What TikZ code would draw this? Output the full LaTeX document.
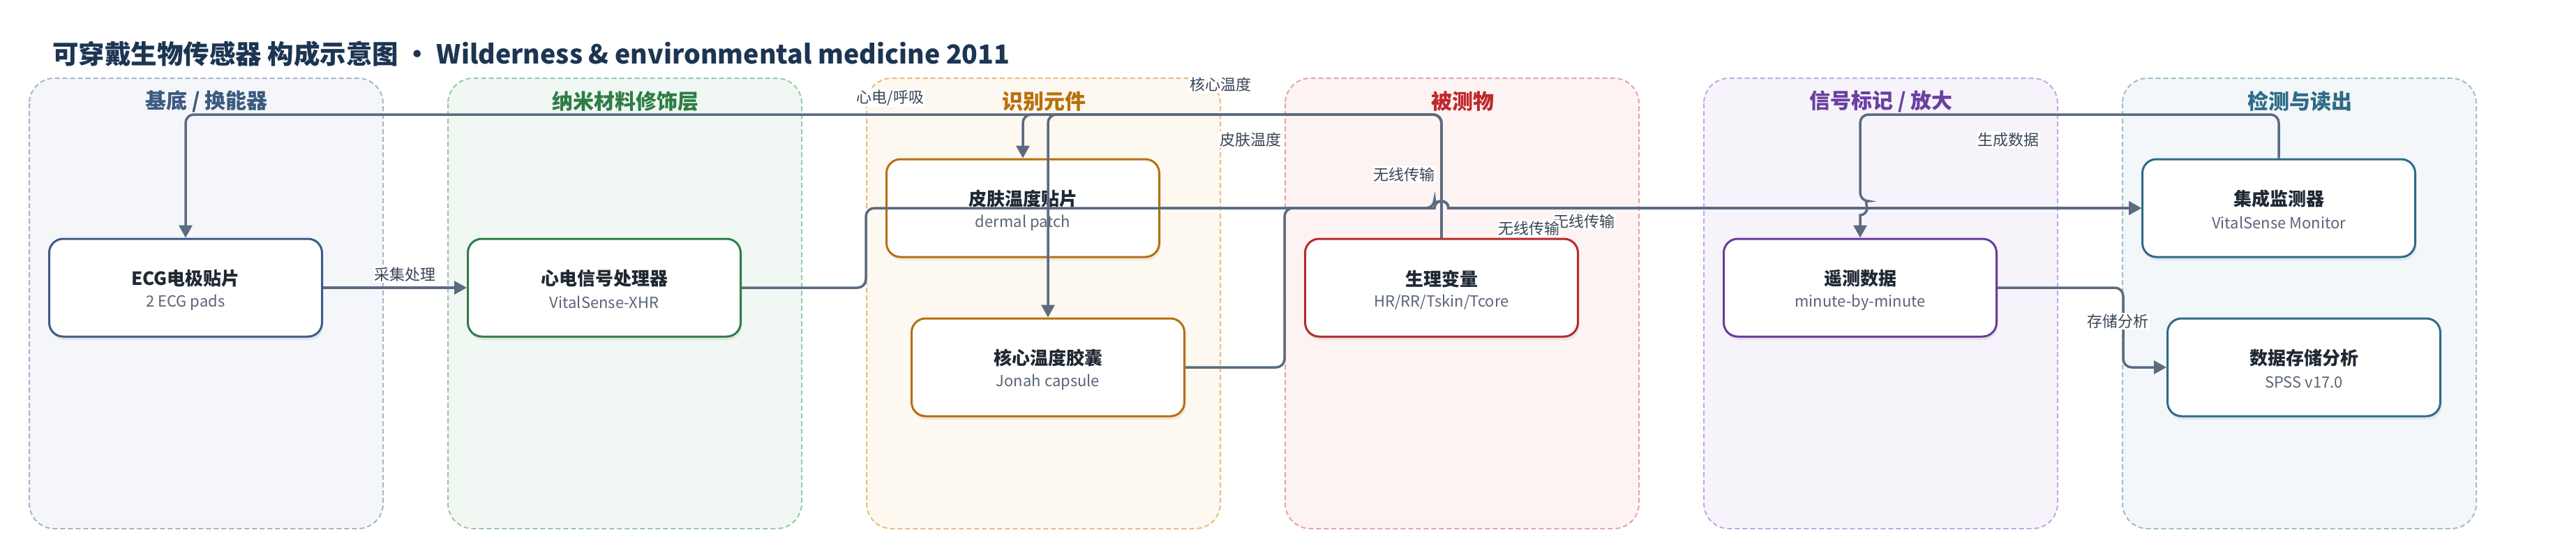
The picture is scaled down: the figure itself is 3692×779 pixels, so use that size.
\documentclass[tikz,border=0pt]{standalone}
\usepackage{fontspec}
\setmainfont{Noto Sans CJK SC}
\usetikzlibrary{arrows.meta,shadows}

\definecolor{edgec}{HTML}{5B6B80}
\definecolor{labc}{HTML}{3A4556}
\definecolor{titc}{HTML}{1C3552}
\definecolor{ntitc}{HTML}{1F2933}
\definecolor{nsubc}{HTML}{5A6577}
% lane colours
\definecolor{fA}{HTML}{F4F6FA}\definecolor{bA}{HTML}{A9B6CA}\definecolor{tA}{HTML}{3D5A80}\definecolor{nA}{HTML}{3E5C85}
\definecolor{fB}{HTML}{F1F8F3}\definecolor{bB}{HTML}{9CC8A8}\definecolor{tB}{HTML}{2E7D46}\definecolor{nB}{HTML}{2E7D4A}
\definecolor{fC}{HTML}{FDF8F0}\definecolor{bC}{HTML}{E5BE80}\definecolor{tC}{HTML}{B8700A}\definecolor{nC}{HTML}{B5700F}
\definecolor{fD}{HTML}{FDF3F3}\definecolor{bD}{HTML}{E8A5A5}\definecolor{tD}{HTML}{C0282A}\definecolor{nD}{HTML}{B82A2A}
\definecolor{fE}{HTML}{F7F3FB}\definecolor{bE}{HTML}{C5A8E0}\definecolor{tE}{HTML}{6B3FA0}\definecolor{nE}{HTML}{6B3A9B}
\definecolor{fF}{HTML}{F3F7F9}\definecolor{bF}{HTML}{9FBFCC}\definecolor{tF}{HTML}{2E6B88}\definecolor{nF}{HTML}{2F6A8A}

\begin{document}
\begin{tikzpicture}[x=1pt,y=-1pt,
  lanebox/.style 2 args={draw=#1, fill=#2, dash pattern=on 7pt off 4pt, line width=2pt, rounded corners=36pt},
  lanetitle/.style={text=#1, font=\fontsize{30}{34}\selectfont\bfseries, inner sep=0pt},
  box/.style={draw=#1, fill=white, line width=3pt, rounded corners=20pt,
    minimum width=391pt, minimum height=140pt, inner sep=0pt,
    drop shadow={opacity=0.13, shadow xshift=2pt, shadow yshift=-5pt}},
  ntitle/.style={text=ntitc, font=\fontsize{26}{30}\selectfont\bfseries, inner sep=0pt},
  nsub/.style={text=nsubc, font=\fontsize{22}{26}\selectfont, inner sep=0pt},
  conn/.style={draw=edgec, line width=3.5pt, -{Triangle[length=18pt,width=19pt]}},
  elab/.style={fill=white, text=labc, font=\fontsize{22}{26}\selectfont, inner sep=1.5pt}
]
\useasboundingbox (0,0) rectangle (3692,779);

% title
\node[anchor=west, text=titc, font=\fontsize{37.5}{43}\selectfont\bfseries, inner sep=0pt] (title) at (75,77)
  {可穿戴生物传感器 构成示意图 · Wilderness \& environmental medicine 2011};

% lanes
\path[lanebox={bA}{fA}] (42,112) rectangle (549,757);
\path[lanebox={bB}{fB}] (642,112) rectangle (1149,757);
\path[lanebox={bC}{fC}] (1242,112) rectangle (1749,757);
\path[lanebox={bD}{fD}] (1842,112) rectangle (2349,757);
\path[lanebox={bE}{fE}] (2442,112) rectangle (2949,757);
\path[lanebox={bF}{fF}] (3042,112) rectangle (3549,757);

\node[lanetitle=tA] (lt1) at (296,145) {基底 / 换能器};
\node[lanetitle=tB] (lt2) at (896,145) {纳米材料修饰层};
\node[lanetitle=tC] (lt3) at (1496,145) {识别元件};
\node[lanetitle=tD] (lt4) at (2096,145) {被测物};
\node[lanetitle=tE] (lt5) at (2696,145) {信号标记 / 放大};
\node[lanetitle=tF] (lt6) at (3296,145) {检测与读出};

% nodes
\node[box=nA] (ecg) at (266,412) {};
\node[ntitle] (ecg-t) at ([yshift=13pt]ecg.center) {ECG电极贴片};
\node[nsub] (ecg-s) at ([yshift=-21pt]ecg.center) {2 ECG pads};

\node[box=nB] (proc) at (866,412) {};
\node[ntitle] (proc-t) at ([yshift=13pt]proc.center) {心电信号处理器};
\node[nsub] (proc-s) at ([yshift=-21pt]proc.center) {VitalSense-XHR};

\node[box=nC] (derm) at (1466,298) {};
\node[ntitle] (derm-t) at ([yshift=13pt]derm.center) {皮肤温度贴片};
\node[nsub] (derm-s) at ([yshift=-21pt]derm.center) {dermal patch};

\node[box=nC] (cap) at (1502,526) {};
\node[ntitle] (cap-t) at ([yshift=13pt]cap.center) {核心温度胶囊};
\node[nsub] (cap-s) at ([yshift=-21pt]cap.center) {Jonah capsule};

\node[box=nD] (phys) at (2066,412) {};
\node[ntitle] (phys-t) at ([yshift=13pt]phys.center) {生理变量};
\node[nsub] (phys-s) at ([yshift=-21pt]phys.center) {HR/RR/Tskin/Tcore};

\node[box=nE] (tel) at (2666,412) {};
\node[ntitle] (tel-t) at ([yshift=13pt]tel.center) {遥测数据};
\node[nsub] (tel-s) at ([yshift=-21pt]tel.center) {minute-by-minute};

\node[box=nF] (mon) at (3266,298) {};
\node[ntitle] (mon-t) at ([yshift=13pt]mon.center) {集成监测器};
\node[nsub] (mon-s) at ([yshift=-21pt]mon.center) {VitalSense Monitor};

\node[box=nF] (stor) at (3302,526) {};
\node[ntitle] (stor-t) at ([yshift=13pt]stor.center) {数据存储分析};
\node[nsub] (stor-s) at ([yshift=-21pt]stor.center) {SPSS v17.0};

% connectors
\draw[conn] (ecg.east) -- (proc.west);

\draw[conn, rounded corners=12pt] (phys.north) -- (2066,164) -- (266,164) -- (ecg.north);
\draw[conn, rounded corners=12pt] (phys.north) -- (2066,164) -- (1466,164) -- (derm.north);
\draw[conn, rounded corners=12pt] (phys.north) -- (2066,164) -- (1502,164) -- (cap.north);

\draw[conn, rounded corners=12pt] (proc.east) -- (1241,412) -- (1241,298) -- (2056,298)
  [sharp corners] arc[start angle=180, end angle=0, radius=10pt] -- (mon.west);
\draw[conn] (derm.east) -- (2056,298) arc[start angle=180, end angle=0, radius=10pt] -- (mon.west);
\draw[conn, rounded corners=12pt] (cap.east) -- (1841,526) -- (1841,298) -- (2056,298)
  [sharp corners] arc[start angle=180, end angle=0, radius=10pt] -- (mon.west);

\draw[conn, rounded corners=12pt] (mon.north) -- (3266,164) -- (2666,164) -- (2666,288)
  [sharp corners] arc[start angle=90, end angle=-90, radius=10pt] -- (tel.north);

\draw[conn, rounded corners=12pt] (tel.east) -- (3043,412) -- (3043,526) -- (stor.west);

% connector labels
\node[elab] (l-acq) at (580,393) {采集处理};
\node[elab] (l-ecg) at (1276,140) {心电/呼吸};
\node[elab] (l-core) at (1749,121) {核心温度};
\node[elab] (l-skin) at (1792,200) {皮肤温度};
\node[elab] (l-w1) at (2012,250) {无线传输};
\node[elab] (l-w3) at (2270,317) {无线传输};
\node[elab] (l-w2) at (2191,327) {无线传输};
\node[elab] (l-gen) at (2878,200) {生成数据};
\node[elab] (l-sto) at (3035,460) {存储分析};
\end{tikzpicture}
\end{document}
